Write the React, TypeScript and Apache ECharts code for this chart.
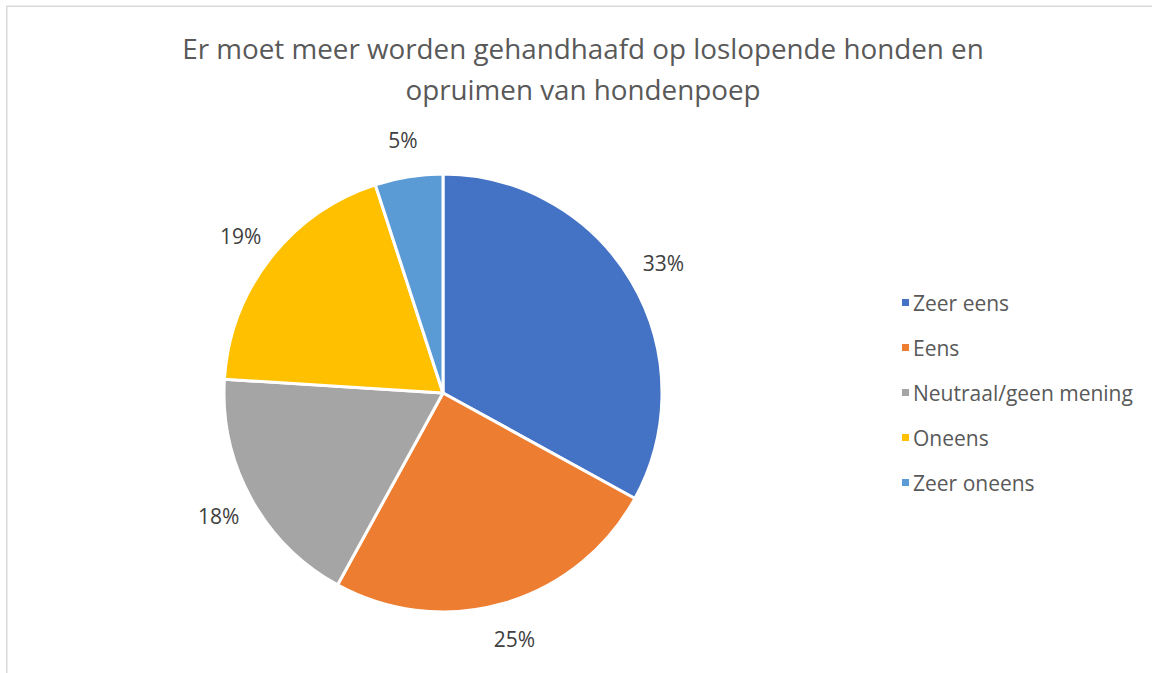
import React, { useEffect, useRef } from "react";
import * as echarts from "echarts";

const titleLines = [
  "Er moet meer worden gehandhaafd op loslopende honden en",
  "opruimen van hondenpoep",
];
const categories = ["Zeer eens", "Eens", "Neutraal/geen mening", "Oneens", "Zeer oneens"];
const values = [33, 25, 18, 19, 5];
const colors = ["#4472C4", "#ED7D31", "#A5A5A5", "#FFC000", "#5B9BD5"];

const FONT = "'Open Sans', 'Noto Sans', sans-serif";

export default function App() {
  const ref = useRef<HTMLDivElement>(null);
  useEffect(() => {
    document.body.style.margin = "0";
    const chart = echarts.init(ref.current!, null, { renderer: "svg" });
    const data = categories.map((name, i) => ({ name, value: values[i], itemStyle: { color: colors[i] } }));
    chart.setOption({
      animation: false,
      backgroundColor: "#ffffff",
      title: {
        text: titleLines.join("\n"),
        left: 578,
        top: 22,
        textAlign: "center",
        textStyle: { fontFamily: FONT, fontSize: 27.8, fontWeight: "normal", color: "#595959", lineHeight: 41 },
      },
      legend: {
        orient: "vertical",
        left: 895,
        top: 287,
        icon: "rect",
        itemWidth: 9,
        itemHeight: 9,
        itemGap: 24,
        data: categories,
        textStyle: { fontFamily: FONT, fontSize: 21, color: "#595959", lineHeight: 20, padding: [0, 0, 0, -2] },
        selectedMode: false,
      },
      graphic: [
        {
          type: "rect",
          shape: { x: 6.75, y: 6.25, width: 1300, height: 800 },
          style: { fill: "none", stroke: "#d9d9d9", lineWidth: 1.5 },
          silent: true,
        },
      ],
      series: [
        {
          type: "pie",
          center: [443, 393],
          radius: [0, 219],
          startAngle: 90,
          clockwise: true,
          data,
          label: { show: false },
          labelLine: { show: false },
          itemStyle: { borderColor: "#ffffff", borderWidth: 3 },
          emphasis: { disabled: true },
          silent: true,
        },
        {
          type: "pie",
          center: [443, 393],
          radius: [219, 287],
          startAngle: 90,
          clockwise: true,
          data: categories.map((name, i) => ({ name, value: values[i] })),
          itemStyle: { color: "rgba(0,0,0,0)" },
          label: {
            show: true,
            position: "inside",
            formatter: (p: any) => Math.round(p.percent) + "%",
            fontFamily: FONT,
            fontSize: 21,
            color: "#404040",
          },
          labelLine: { show: false },
          emphasis: { disabled: true },
          silent: true,
        },
      ],
    });
    return () => chart.dispose();
  }, []);
  return <div ref={ref} style={{ position: "absolute", left: 0, top: 0, width: 1152, height: 673 }} />;
}
